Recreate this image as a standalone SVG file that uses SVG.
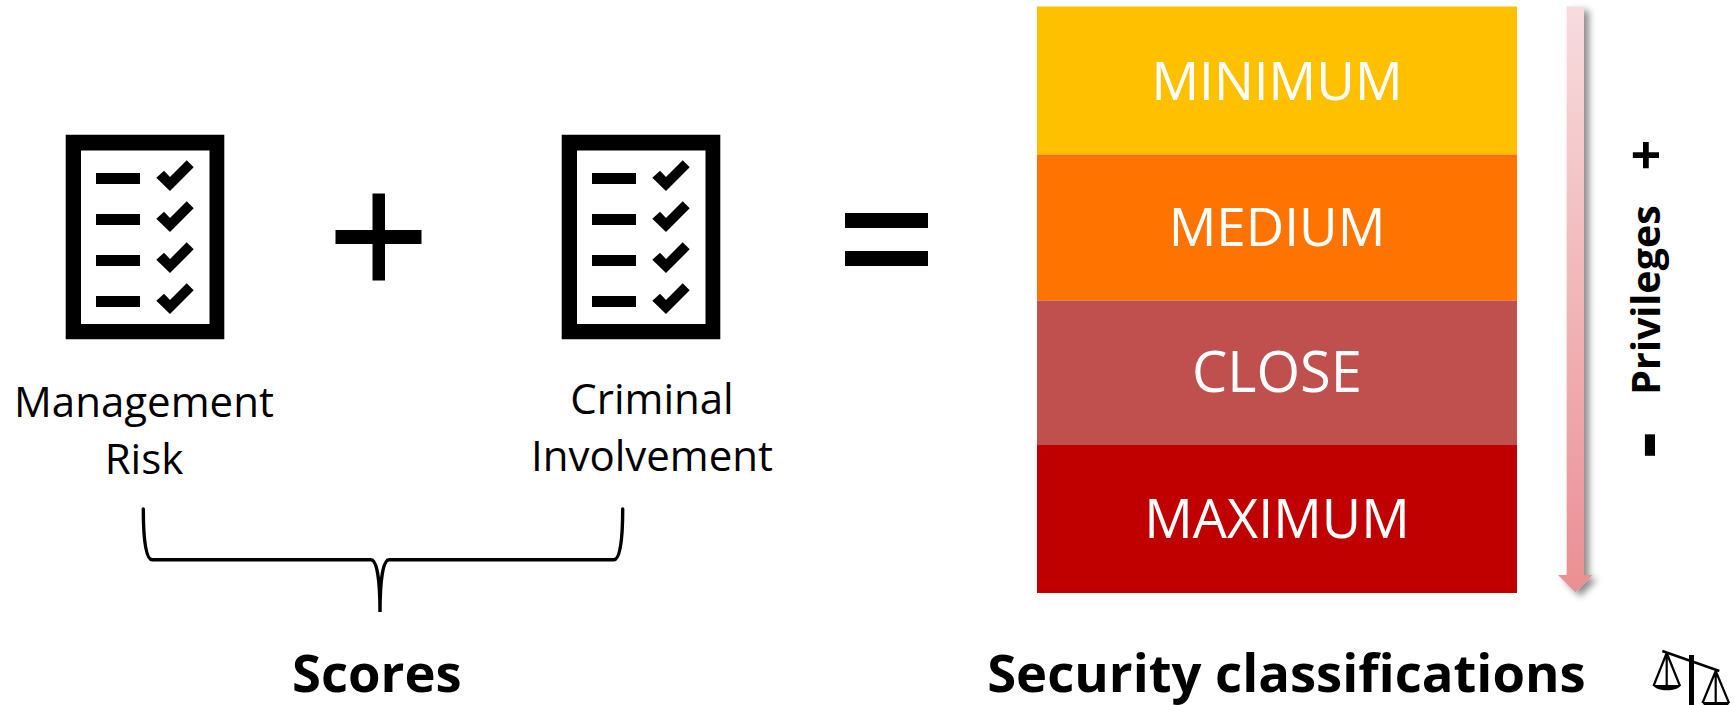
<svg xmlns="http://www.w3.org/2000/svg" xmlns:xlink="http://www.w3.org/1999/xlink" width="1735" height="705" viewBox="0 0 1735 705">
<style>
text{font-family:"Open Sans","Noto Sans",sans-serif;text-anchor:middle;fill:#000}
.lbl{font-size:42px}
.band{font-size:53px;fill:#fff}
.title{font-size:52.600px;font-weight:700}
.side{font-size:39.400px;font-weight:700}
.thin{fill:none;stroke:#000;stroke-width:2.2}
</style>
<defs>
<g id="sheet">
<path fill-rule="evenodd" d="M65.700 134.800H224.300V339.300H65.700ZM81 150.500V324H209.500V150.500Z"/>
<g id="row"><rect x="96" y="173" width="44" height="11"/><path d="M156.300 177.700L164 170.700L170 177L186.700 160.300L193.700 167.300L170 191Z"/></g>
<use xlink:href="#row" y="41"/><use xlink:href="#row" y="82"/><use xlink:href="#row" y="123"/>
</g>
<linearGradient id="fade" x1="0" y1="0" x2="0" y2="1"><stop offset="0" stop-color="#f7dcde"/><stop offset="1" stop-color="#ea8f92"/></linearGradient>
<filter id="sh" x="-60%" y="-5%" width="220%" height="110%"><feDropShadow dx="5" dy="4" stdDeviation="3.500" flood-color="#000" flood-opacity=".45"/></filter>
</defs>
<g id="management-risk"><use xlink:href="#sheet"/><text class="lbl" x="144" y="416.500">Management</text><text class="lbl" x="144" y="473.500">Risk</text></g>
<g id="plus"><rect x="335.500" y="230" width="86" height="14"/><rect x="372.500" y="193.500" width="12.500" height="87"/></g>
<g id="criminal-involvement"><use xlink:href="#sheet" x="496"/><text class="lbl" x="652" y="413.500">Criminal</text><text class="lbl" x="652" y="471">Involvement</text></g>
<g id="equals"><rect x="845" y="213" width="83" height="15"/><rect x="845" y="251" width="83" height="15"/></g>
<g id="connectors"><path fill="none" stroke="#000" stroke-width="3.400" stroke-linecap="round" d="M143.300 509C143.300 540 146 559.700 152 559.700H371C377 559.700 380 580 380 612C380 580 383 559.700 389 559.700H614C620 559.700 622.700 540 622.700 509"/></g>
<g id="scores"><text class="title" x="376.800" y="692">Scores</text></g>
<g id="minimum"><rect x="1037" y="6.500" width="480" height="148" fill="#ffc000"/><text class="band" x="1277" y="100">MINIMUM</text></g>
<g id="medium"><rect x="1037" y="154.500" width="480" height="146" fill="#ff7300"/><text class="band" x="1277" y="246">MEDIUM</text></g>
<g id="close"><rect x="1037" y="300.500" width="480" height="144.500" fill="#c0504d"/><text class="band" style="font-size:56px" x="1277" y="392">CLOSE</text></g>
<g id="maximum"><rect x="1037" y="445" width="480" height="148" fill="#c00000"/><text class="band" style="font-size:54px" x="1277" y="538">MAXIMUM</text></g>
<g id="privileges-arrow"><path fill="url(#fade)" filter="url(#sh)" d="M1566.700 6.500H1584V575H1592.700L1575.400 592.500L1558 575H1566.700Z"/></g>
<g id="privileges">
<text class="side" transform="translate(1660 300) rotate(-90)">Privileges</text>
<text class="side" style="font-size:54px" transform="translate(1665 155) rotate(-90)">+</text>
<text class="side" style="font-size:82px" transform="translate(1672 445) rotate(-90)">-</text>
</g>
<g id="security-classifications"><text class="title" x="1286.400" y="692">Security classifications</text></g>
<g id="scales">
<path d="M1662.300 651L1719.300 671" fill="none" stroke="#000" stroke-width="2.500"/>
<rect x="1689" y="655" width="5" height="50"/>
<path class="thin" d="M1666.700 653L1653.500 686M1666.700 653L1680 686M1666.700 653V686"/>
<path d="M1653 685H1681C1678 692 1656 692 1653 685Z"/>
<path class="thin" d="M1715.700 671L1702.500 703M1715.700 671L1729 703M1715.700 671V703"/>
<path d="M1702 702H1730L1728 705H1704Z"/>
</g>
</svg>
